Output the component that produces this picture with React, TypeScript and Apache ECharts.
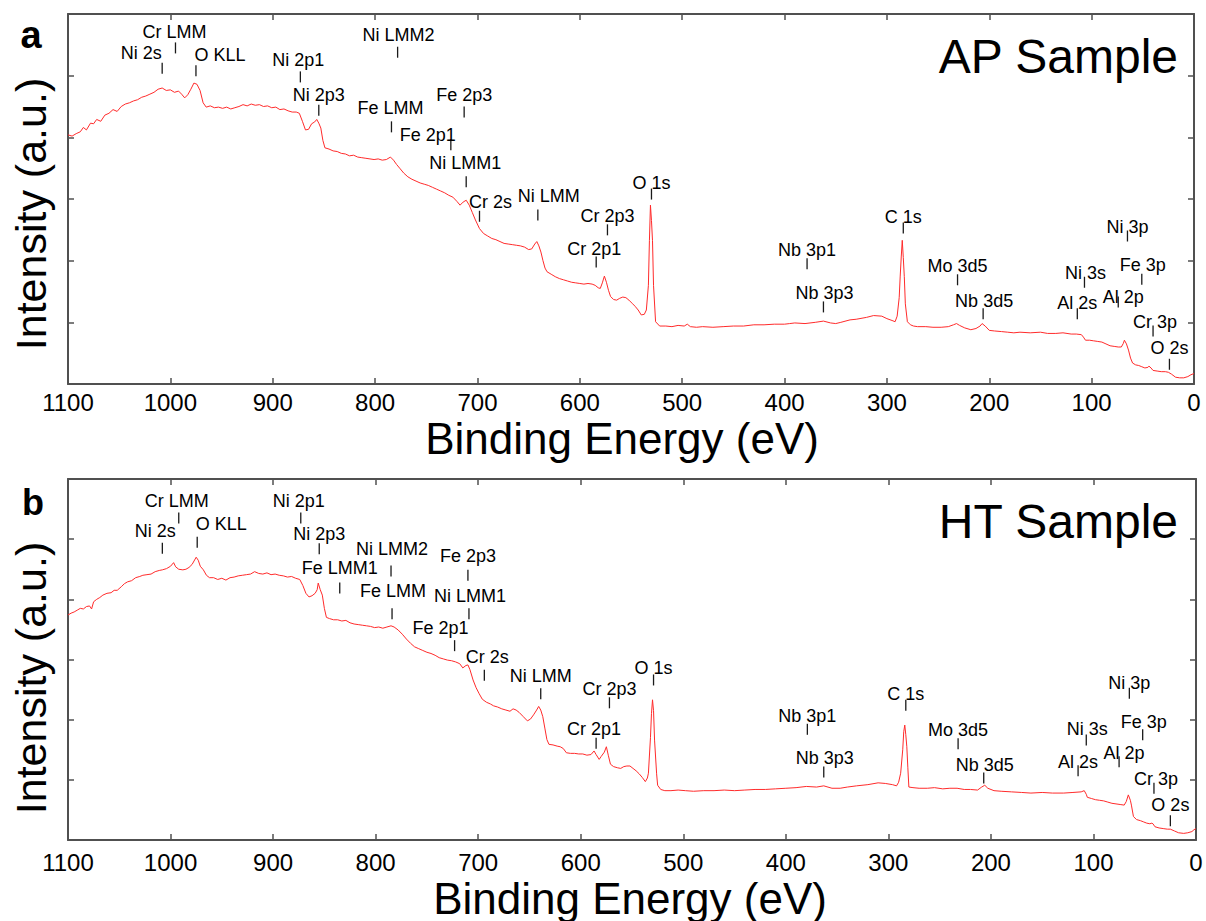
import React, { useEffect, useRef } from "react";
import * as echarts from "echarts";

const FONT = "'Liberation Sans', Arial, Helvetica, sans-serif";

// Survey spectra: [binding energy (eV), intensity (a.u.)]
const apSpectrum: [number, number][] = [
  [1100, 40.4], [1096, 40.2], [1092, 40.6], [1088, 40.9], [1085, 41.6], [1082, 41.2], [1078, 42.3],
  [1075, 42.2], [1072, 42.9], [1068, 42.6], [1064, 43.6], [1060, 43.9], [1056, 44.5], [1052, 44.2],
  [1048, 45.0], [1044, 45.4], [1040, 45.6], [1036, 45.9], [1032, 46.1], [1028, 46.5], [1024, 46.7],
  [1020, 47.0], [1016, 47.3], [1012, 47.8], [1008, 48.0], [1004, 47.6], [1000, 47.7], [996, 47.3],
  [992, 47.5], [989, 47.0], [986, 46.4], [983, 46.9], [980, 47.8], [977, 48.8], [974, 48.6],
  [971, 47.6], [968, 45.6], [965, 44.9], [961, 45.1], [957, 44.8], [953, 44.9], [949, 44.7],
  [945, 44.9], [941, 44.6], [937, 44.8], [933, 45.0], [929, 45.3], [925, 45.1], [921, 45.4],
  [917, 45.2], [913, 45.3], [909, 45.0], [905, 45.1], [901, 44.8], [897, 44.9], [893, 44.5],
  [889, 44.6], [885, 44.3], [881, 44.1], [877, 44.1], [874, 43.9], [871, 42.6], [868, 41.2],
  [865, 41.3], [862, 42.2], [859, 42.5], [857, 42.9], [855, 42.3], [853, 41.5], [851, 39.5],
  [849, 38.3], [845, 38.1], [841, 37.8], [837, 37.7], [833, 37.4], [829, 37.3], [825, 37.0],
  [821, 37.1], [817, 36.8], [813, 36.7], [809, 36.6], [805, 36.5], [801, 36.4], [797, 36.5],
  [793, 36.3], [789, 36.4], [785, 36.8], [782, 36.3], [779, 35.6], [776, 35.0], [772, 34.2],
  [768, 33.6], [764, 33.2], [760, 32.9], [756, 32.6], [752, 32.4], [748, 32.2], [744, 31.9],
  [740, 31.6], [736, 31.3], [732, 31.0], [728, 30.6], [724, 30.3], [720, 29.6], [717, 29.0],
  [714, 29.5], [711, 29.8], [708, 29.0], [705, 27.8], [702, 26.6], [698, 25.2], [694, 24.4],
  [690, 24.0], [686, 23.6], [682, 23.4], [678, 23.1], [674, 22.8], [670, 22.7], [666, 22.6],
  [662, 22.5], [658, 22.4], [654, 22.2], [650, 21.8], [647, 21.9], [644, 22.7], [642, 23.1],
  [640, 22.4], [638, 21.4], [636, 20.0], [634, 18.8], [632, 18.2], [628, 17.8], [624, 17.4],
  [620, 17.1], [616, 16.9], [612, 16.7], [608, 16.5], [604, 16.4], [600, 16.3], [596, 16.2],
  [592, 16.3], [588, 16.2], [585, 16.0], [582, 15.6], [580, 15.5], [578, 16.4], [576, 17.5],
  [574, 16.5], [572, 15.2], [570, 14.2], [567, 13.7], [564, 13.6], [561, 13.9], [558, 14.1],
  [555, 14.0], [552, 13.6], [549, 13.1], [546, 12.6], [543, 12.0], [540, 11.2], [537, 11.3],
  [535, 12.0], [533, 16.0], [532, 23.3], [531, 29.0], [530, 26.5], [529, 23.3], [528, 16.0],
  [526, 10.1], [522, 9.4], [516, 9.4], [510, 9.3], [504, 9.5], [498, 9.4], [495, 9.7],
  [492, 9.3], [486, 9.2], [480, 9.3], [470, 9.2], [460, 9.3], [450, 9.4], [440, 9.4],
  [430, 9.6], [420, 9.6], [410, 9.7], [400, 9.7], [395, 9.8], [390, 9.9], [380, 9.8],
  [370, 10.0], [362, 10.2], [355, 9.9], [350, 9.8], [345, 10.0], [336, 10.4], [330, 10.5],
  [320, 10.8], [313, 11.1], [305, 11.0], [300, 10.6], [295, 10.3], [292, 10.1], [290, 11.0],
  [288, 14.0], [287, 17.5], [286, 20.6], [285, 23.3], [284, 20.5], [283, 17.4], [282, 13.0],
  [280, 10.1], [277, 9.6], [274, 9.4], [270, 9.3], [262, 9.3], [255, 9.2], [247, 9.2],
  [240, 9.3], [235, 9.6], [232, 9.8], [229, 9.5], [224, 9.1], [218, 8.8], [213, 9.0],
  [209, 9.4], [207, 9.8], [204, 9.4], [200, 8.7], [195, 8.6], [188, 8.5], [182, 8.4],
  [176, 8.3], [170, 8.4], [160, 8.3], [150, 8.4], [143, 8.2], [135, 8.2], [128, 8.3],
  [120, 8.1], [115, 8.1], [110, 8.0], [108, 7.6], [106, 7.1], [102, 7.1], [98, 7.0],
  [94, 6.9], [90, 6.8], [86, 6.5], [82, 6.2], [78, 6.1], [74, 6.0], [71, 6.0], [69, 6.6],
  [68, 7.1], [66, 6.5], [64, 5.5], [62, 4.2], [60, 3.4], [57, 3.1], [54, 3.0], [51, 2.8],
  [48, 2.6], [45, 2.7], [44, 2.9], [42, 2.6], [40, 2.2], [36, 2.1], [32, 2.0], [28, 2.0],
  [25, 1.9], [22, 1.6], [18, 1.1], [14, 1.0], [10, 1.0], [6, 1.2], [3, 1.5], [0, 1.7],
];

const htSpectrum: [number, number][] = [
  [1100, 37.4], [1097, 37.7], [1094, 37.9], [1091, 38.2], [1088, 38.5], [1085, 38.4], [1082, 38.8],
  [1079, 38.9], [1077, 38.4], [1075, 39.6], [1072, 40.0], [1069, 40.3], [1066, 40.7], [1062, 41.0],
  [1058, 41.1], [1055, 41.5], [1052, 41.5], [1048, 42.1], [1045, 42.6], [1042, 42.9], [1038, 43.1],
  [1034, 43.6], [1030, 43.8], [1027, 44.0], [1023, 44.1], [1019, 44.2], [1015, 44.6], [1011, 44.8],
  [1008, 44.9], [1004, 45.1], [1000, 45.5], [997, 46.1], [995, 45.4], [992, 45.0], [988, 44.9],
  [985, 45.0], [982, 45.3], [979, 45.8], [976, 46.7], [975, 47.0], [973, 46.5], [971, 45.5],
  [968, 44.9], [965, 44.0], [962, 43.6], [958, 43.6], [954, 43.3], [950, 43.5], [946, 43.2],
  [942, 43.6], [938, 43.7], [934, 43.9], [930, 44.0], [926, 44.1], [922, 44.2], [918, 44.6],
  [914, 44.3], [910, 44.2], [906, 44.4], [902, 44.1], [898, 44.2], [894, 44.0], [890, 43.9],
  [886, 43.7], [882, 43.8], [878, 43.5], [874, 43.3], [871, 42.3], [868, 41.0], [865, 40.4],
  [862, 40.6], [859, 41.0], [857, 41.6], [856, 42.7], [854, 41.6], [852, 40.7], [850, 38.5],
  [848, 37.0], [845, 36.8], [841, 36.6], [837, 36.6], [833, 36.4], [829, 36.5], [825, 36.1],
  [821, 35.9], [817, 35.8], [813, 35.7], [809, 35.6], [805, 35.5], [801, 35.3], [797, 35.4],
  [793, 35.2], [789, 35.4], [785, 35.6], [782, 35.4], [778, 34.9], [774, 34.2], [770, 33.4],
  [766, 32.7], [762, 32.1], [758, 31.8], [754, 31.5], [750, 31.2], [746, 31.0], [742, 30.7],
  [738, 30.3], [734, 30.1], [730, 29.9], [726, 29.8], [722, 29.6], [718, 29.3], [715, 28.6],
  [712, 29.0], [710, 29.1], [708, 28.3], [705, 26.6], [702, 25.3], [699, 24.3], [696, 23.4],
  [692, 22.9], [688, 22.6], [685, 22.3], [681, 22.1], [677, 21.8], [673, 21.6], [669, 21.4],
  [666, 21.8], [663, 21.6], [660, 21.2], [656, 20.5], [652, 19.8], [649, 20.1], [646, 20.8],
  [643, 21.6], [641, 22.2], [639, 21.6], [637, 20.5], [635, 18.6], [633, 16.7], [631, 15.9],
  [627, 15.8], [623, 15.6], [620, 15.5], [617, 15.2], [614, 14.5], [610, 14.4], [606, 14.4],
  [602, 14.3], [598, 14.3], [594, 14.1], [590, 14.2], [587, 14.8], [585, 14.2], [582, 13.4],
  [580, 13.9], [577, 14.6], [575, 15.5], [573, 14.0], [571, 12.6], [568, 12.2], [564, 12.0],
  [561, 11.9], [558, 12.2], [555, 12.3], [552, 12.3], [549, 11.9], [546, 11.5], [543, 11.0],
  [540, 10.4], [537, 9.7], [535, 10.3], [534, 11.1], [532, 17.0], [531, 21.0], [530, 23.3],
  [529, 21.5], [528, 16.6], [526, 11.0], [525, 9.1], [522, 8.4], [518, 8.2], [512, 8.2],
  [505, 8.3], [498, 8.2], [490, 8.1], [480, 8.2], [470, 8.2], [460, 8.3], [450, 8.2],
  [440, 8.3], [430, 8.4], [420, 8.4], [410, 8.5], [400, 8.6], [390, 8.7], [380, 8.9],
  [370, 8.8], [363, 9.0], [355, 8.6], [347, 8.6], [340, 8.8], [331, 9.0], [320, 9.2],
  [310, 9.5], [303, 9.4], [296, 9.2], [292, 9.0], [290, 9.6], [288, 11.1], [286, 15.0],
  [285, 18.0], [284, 19.1], [283, 17.5], [282, 15.5], [281, 12.0], [280, 8.8], [276, 8.7],
  [270, 8.6], [262, 8.6], [255, 8.7], [247, 8.5], [240, 8.6], [233, 8.6], [226, 8.4],
  [220, 8.4], [213, 8.3], [209, 8.8], [206, 9.1], [203, 8.6], [197, 8.2], [190, 8.1],
  [180, 8.0], [170, 7.9], [161, 7.8], [150, 7.9], [140, 7.8], [129, 7.8], [120, 7.9],
  [112, 8.0], [109, 8.2], [107, 7.6], [106, 7.1], [102, 6.9], [98, 6.7], [94, 6.6],
  [90, 6.5], [86, 6.3], [82, 6.1], [78, 6.0], [74, 5.9], [70, 5.8], [68, 6.4], [66, 7.5],
  [64, 6.6], [63, 5.8], [61, 3.9], [58, 3.4], [54, 3.2], [51, 3.0], [48, 2.8], [45, 2.7],
  [43, 2.8], [42, 2.7], [40, 2.2], [36, 2.0], [32, 1.9], [28, 1.8], [25, 1.8], [21, 1.5],
  [17, 1.2], [12, 1.1], [8, 1.2], [4, 1.4], [2, 1.7], [0, 1.9],
];

// Peak assignments
const apPeakLabels = [
  "Ni 2s", "Cr LMM", "O KLL", "Ni 2p1", "Ni 2p3", "Ni LMM2", "Fe LMM", "Fe 2p1", "Fe 2p3",
  "Ni LMM1", "Cr 2s", "Ni LMM", "Cr 2p3", "Cr 2p1", "O 1s", "Nb 3p1", "Nb 3p3", "C 1s",
  "Mo 3d5", "Nb 3d5", "Ni 3s", "Al 2s", "Ni 3p", "Fe 3p", "Al 2p", "Cr 3p", "O 2s",
];
const apPeakEnergies = [
  1008, 995, 975, 873, 855, 778, 784, 726, 713, 711, 698, 641, 573, 584, 530, 378, 362, 284,
  231, 206, 107, 114, 65, 51, 74, 40, 24,
];
// [marker height (a.u.), label dx (px), label dy (px)]
const apPeakPlacement: [number, number, number][] = [
  [51.2, -21, -15], [54.5, -1, -16], [50.8, 24, -16], [49.8, -2, -17], [44.4, 0, -15],
  [53.8, 1, -17], [41.7, -1, -19], [38.8, -23, -10], [44.1, 0, -17], [32.8, -1, -19],
  [27.2, 11, -14], [27.4, 11, -19], [25.0, 0, -14], [19.8, -2, -13], [30.8, 0, -11],
  [19.5, 0, -14], [12.5, 1, -14], [25.3, 0, -11], [16.9, 0, -14], [11.4, 1, -13],
  [16.5, 1, -9], [11.4, 0, -11], [24.0, 0, -9], [17.0, 1, -14], [13.3, 5, -5],
  [8.6, 2, -9], [3.2, 0, -16],
];

const htPeakLabels = [
  "Ni 2s", "Cr LMM", "O KLL", "Ni 2p1", "Ni 2p3", "Fe LMM1", "Ni LMM2", "Fe LMM", "Fe 2p3",
  "Ni LMM1", "Fe 2p1", "Cr 2s", "Ni LMM", "Cr 2p3", "Cr 2p1", "O 1s", "Nb 3p1", "Nb 3p3",
  "C 1s", "Mo 3d5", "Nb 3d5", "Ni 3s", "Al 2s", "Ni 3p", "Fe 3p", "Al 2p", "Cr 3p", "O 2s",
];
const htPeakEnergies = [
  1008, 992, 974, 873, 855, 835, 785, 784, 710, 709, 723, 694, 639, 572, 585, 529, 379, 363,
  283, 232, 207, 107, 115, 65, 52, 75, 41, 25,
];
const htPeakPlacement: [number, number, number][] = [
  [48.5, -7, -17], [53.5, -2, -17], [49.5, 24, -18], [53.5, -2, -17], [48.4, 0, -15],
  [41.9, 0, -20], [44.7, 1, -22], [37.6, 1, -23], [44.0, 0, -19], [37.6, 1, -18],
  [32.3, -14, -18], [27.4, 3, -18], [24.3, 0, -18], [22.8, 0, -14], [16.1, -2, -14],
  [26.6, 0, -12], [18.4, 0, -13], [11.3, 1, -14], [22.4, 0, -11], [16.0, 0, -14],
  [10.3, 1, -13], [16.6, 1, -11], [11.5, 0, -9], [24.4, 0, -10], [17.5, 1, -13],
  [13.0, 5, -9], [8.6, 2, -9], [3.2, 0, -16],
];

const AXIS_COLOR = "#505050";

function xAxesFor(gridIndex: number, labelMargin: number) {
  const common = {
    type: "value" as const,
    gridIndex,
    min: 0,
    max: 1100,
    interval: 100,
    inverse: true,
    splitLine: { show: false },
    axisLine: { show: true, onZero: false, lineStyle: { color: AXIS_COLOR, width: 2 } },
    axisTick: { show: true, inside: true, length: 6, lineStyle: { color: AXIS_COLOR, width: 1.5 } },
  };
  return [
    {
      ...common,
      position: "bottom",
      axisLabel: {
        show: true,
        margin: labelMargin,
        fontSize: 24,
        lineHeight: 20,
        color: "#000",
        fontFamily: FONT,
        showMinLabel: true,
        showMaxLabel: true,
        formatter: (v: number) => String(v),
      },
    },
    { ...common, position: "top", axisLabel: { show: false } },
  ];
}

function yAxesFor(gridIndex: number) {
  const common = {
    type: "value" as const,
    gridIndex,
    min: 0,
    max: 60,
    interval: 10,
    splitLine: { show: false },
    axisLabel: { show: false },
    axisLine: { show: true, onZero: false, lineStyle: { color: AXIS_COLOR, width: 2 } },
    axisTick: { show: true, inside: true, length: 6, lineStyle: { color: AXIS_COLOR, width: 1.5 } },
  };
  return [
    { ...common, position: "left" },
    { ...common, position: "right" },
  ];
}

function spectrumSeries(data: [number, number][], axisIndex: number) {
  return {
    type: "line",
    xAxisIndex: axisIndex,
    yAxisIndex: axisIndex,
    data,
    symbol: "none",
    showSymbol: false,
    silent: true,
    z: 3,
    lineStyle: { color: "#ff2b2b", width: 1 },
  };
}

function peakSeries(
  labels: string[],
  energies: number[],
  placement: [number, number, number][],
  axisIndex: number
) {
  return {
    type: "scatter",
    xAxisIndex: axisIndex,
    yAxisIndex: axisIndex,
    silent: true,
    z: 5,
    symbol: "rect",
    symbolSize: [1.3, 11],
    itemStyle: { color: "#1a1a1a", opacity: 1 },
    label: {
      show: true,
      position: "inside",
      formatter: "{b}",
      color: "#000",
      opacity: 1,
      fontSize: 18,
      fontFamily: FONT,
      textBorderWidth: 0,
    },
    data: labels.map((name, i) => ({
      name,
      value: [energies[i], placement[i][0]],
      label: { offset: [placement[i][1], placement[i][2]] },
    })),
  };
}

function text(x: number, y: number, content: string, size: number, extra: Record<string, unknown> = {}) {
  return {
    type: "text",
    x,
    y,
    silent: true,
    ...extra,
    style: {
      text: content,
      fontSize: size,
      fontFamily: FONT,
      fill: "#000",
      textAlign: "center",
      textVerticalAlign: "middle",
      ...((extra.style as object) || {}),
    },
  };
}

export default function App() {
  const ref = useRef<HTMLDivElement>(null);

  useEffect(() => {
    document.body.style.margin = "0";
    if (!ref.current) return;
    const chart = echarts.init(ref.current, undefined, { renderer: "svg" });

    const option = {
      animation: false,
      backgroundColor: "#fff",
      grid: [
        { left: 68, top: 14, width: 1126, height: 370 },
        { left: 68, top: 479, width: 1128, height: 361 },
      ],
      xAxis: [...xAxesFor(0, 8), ...xAxesFor(1, 12)],
      yAxis: [...yAxesFor(0), ...yAxesFor(1)],
      series: [
        spectrumSeries(apSpectrum, 0),
        peakSeries(apPeakLabels, apPeakEnergies, apPeakPlacement, 0),
        { ...spectrumSeries(htSpectrum, 2), yAxisIndex: 2 },
        { ...peakSeries(htPeakLabels, htPeakEnergies, htPeakPlacement, 2), yAxisIndex: 2 },
      ],
      graphic: [
        text(31, 35, "a", 38, { style: { fontWeight: "bold" } }),
        text(33, 502, "b", 36, { style: { fontWeight: "bold" } }),
        text(1178, 56, "AP Sample", 48, { style: { textAlign: "right" } }),
        text(1178, 521, "HT Sample", 48, { style: { textAlign: "right" } }),
        text(31, 214, "Intensity (a.u.)", 43, { rotation: Math.PI / 2 }),
        text(31, 678, "Intensity (a.u.)", 43, { rotation: Math.PI / 2 }),
        text(622, 438, "Binding Energy (eV)", 44, { style: { lineHeight: 38 } }),
        text(630, 898, "Binding Energy (eV)", 44, { style: { lineHeight: 38 } }),
      ],
    };

    chart.setOption(option as echarts.EChartsOption);
    return () => chart.dispose();
  }, []);

  return <div ref={ref} style={{ width: 1206, height: 921 }} />;
}
